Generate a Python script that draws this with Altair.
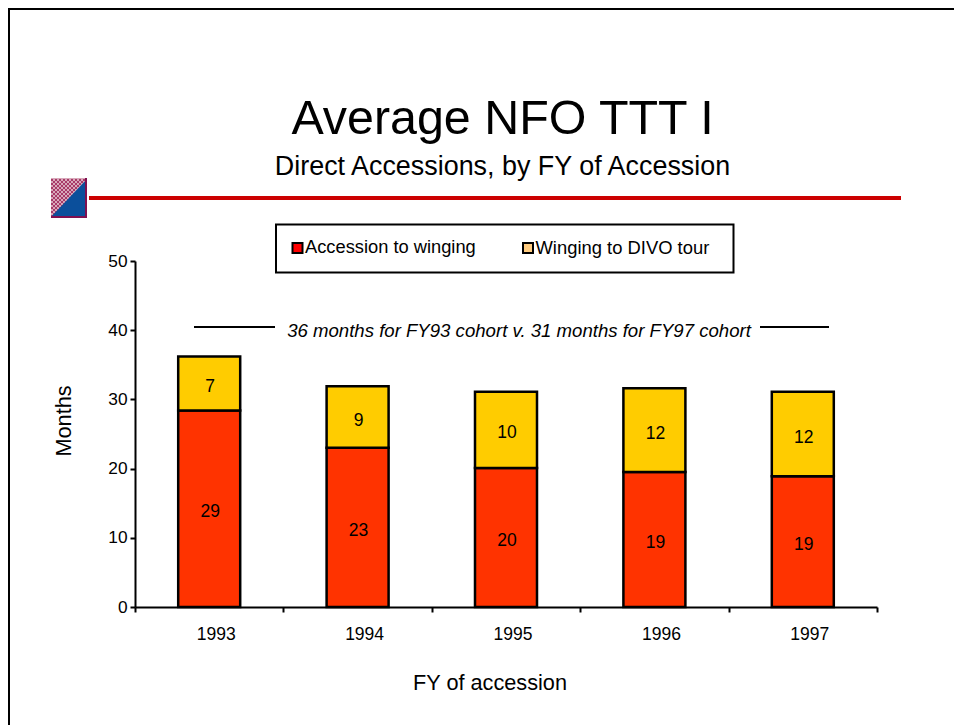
import altair as alt
import pandas as pd

years = ["1993", "1994", "1995", "1996", "1997"]
accession = [28.4, 23.0, 20.1, 19.5, 18.9]
winging = [7.8, 8.9, 11.0, 12.1, 12.2]
accession_labels = ["29", "23", "20", "19", "19"]
winging_labels = ["7", "9", "10", "12", "12"]
series = ["Accession to winging", "Winging to DIVO tour"]
bar_colors = ["#FF3300", "#FFCC00"]
legend_colors = ["#FF0000", "#FFCC80"]

FONT = "Liberation Sans"
W, H = 742, 346
OX, OY = 135, 261  # plot origin in page pixels


def px(v):
    return alt.value(v - OX)


def py(v):
    return alt.value(v - OY)


rows = []
for i, yr in enumerate(years):
    a, b = accession[i], winging[i]
    rows.append(dict(year=yr, series=series[0], start=0, end=a, mid=a / 2, label=accession_labels[i]))
    rows.append(dict(year=yr, series=series[1], start=a, end=a + b, mid=a + b / 2, label=winging_labels[i]))
df = pd.DataFrame(rows)

x = alt.X(
    "year:N",
    title=None,
    scale=alt.Scale(paddingInner=0, paddingOuter=0),
    axis=alt.Axis(
        labelAngle=0, labelFontSize=17.5, labelFont=FONT, labelColor="#000", labelPadding=13,
        labelOffset=6.5, tickBand="extent", tickSize=5, tickWidth=2, tickColor="#000",
        domainColor="#000", domainWidth=2, grid=False,
    ),
)
y = alt.Y(
    "start:Q",
    title=None,
    scale=alt.Scale(domain=[0, 50], nice=False),
    axis=alt.Axis(
        values=[0, 10, 20, 30, 40, 50], labelFontSize=17.3, labelFont=FONT, labelColor="#000",
        labelPadding=3, tickSize=5, tickWidth=2, tickColor="#000", domainColor="#000",
        domainWidth=2, grid=False,
    ),
)

bars = alt.Chart(df).mark_bar(size=62, stroke="#000", strokeWidth=2.5).encode(
    x=x,
    y=y,
    y2="end:Q",
    color=alt.Color("series:N", scale=alt.Scale(domain=series, range=bar_colors), legend=None),
)
values = alt.Chart(df).mark_text(font=FONT, fontSize=17.5, color="#000", dy=3.5, dx=1).encode(
    x=alt.X("year:N"),
    y=alt.Y("mid:Q"),
    text="label:N",
)


def txt(s, cx, cy, size, **kw):
    return alt.Chart(pd.DataFrame({"t": [s]})).mark_text(
        font=FONT, fontSize=size, color="#000", baseline="middle", **kw
    ).encode(x=px(cx), y=py(cy), text="t:N")


def hline(x1, x2, yy, color="#000", width=2):
    return alt.Chart(pd.DataFrame({"a": [0]})).mark_rule(color=color, strokeWidth=width).encode(
        x=px(x1), x2=px(x2), y=py(yy)
    )


def vline(xx, y1, y2, color="#000", width=2):
    return alt.Chart(pd.DataFrame({"a": [0]})).mark_rule(color=color, strokeWidth=width).encode(
        x=px(xx), y=py(y1), y2=py(y2)
    )


def box(x1, x2, y1, y2, fill, stroke=None, sw=0):
    kw = dict(fill=fill)
    if stroke:
        kw.update(stroke=stroke, strokeWidth=sw)
    return alt.Chart(pd.DataFrame({"a": [0]})).mark_rect(**kw).encode(
        x=px(x1), x2=px(x2), y=py(y1), y2=py(y2)
    )


# hatched-and-blue square ornament
def shape(path, cx, cy, size, fill):
    return alt.Chart(pd.DataFrame({"a": [0]})).mark_point(
        shape=path, size=size, fill=fill, filled=True, opacity=1, strokeWidth=0
    ).encode(x=px(cx), y=py(cy))


checks = []
for r in range(0, 19):
    for c in range(0, 18):
        if (r + c) % 2 == 0 and c / 18 + r / 19 < 0.98:
            x0, y0 = -0.9 + c * 0.1, -0.95 + r * 0.1
            checks.append(f"M{x0:.2f},{y0:.2f}h0.1v0.1h-0.1Z")
ornament = [
    box(51, 87, 178, 218, "#D8A8BA"),
    shape("".join(checks), 69, 198, 1600, "#A83A68"),
    shape("M0.9,-0.95L0.9,0.95L-0.9,0.95Z", 69, 198, 1600, "#0B4F9B"),
    hline(51, 87, 217, "#7F1050", 2),
    vline(86, 178, 218, "#7F1050", 2),
]

decor = [
    hline(8, 954, 9),
    vline(9, 8, 725),
    txt("Average NFO TTT I", 502.5, 118.5, 48.4),
    txt("Direct Accessions, by FY of Accession", 502.5, 167, 26.9),
    hline(89, 901, 198, "#CC0000", 4),
    box(276, 733.5, 224.5, 272.5, "#FFFFFF", "#000", 2),
    box(292.5, 302.5, 243, 253, legend_colors[0], "#000", 2),
    box(523, 533, 243, 253, legend_colors[1], "#000", 2),
    txt(series[0], 305, 248, 18.3, align="left"),
    txt(series[1], 535.5, 248, 18.4, align="left"),
    hline(194, 275, 327),
    hline(760, 829, 327),
    txt("36 months for FY93 cohort v. 31 months for FY97 cohort", 519, 331, 18.6, fontStyle="italic"),
    txt("FY of accession", 490, 682.5, 21.7),
    txt("Months", 64, 421, 21.7, angle=270),
]

chart = alt.layer(bars, values, *ornament, *decor).properties(
    width=W,
    height=H,
    autosize=alt.AutoSizeParams(type="none"),
    padding={"left": OX - 8, "top": OY - 8, "right": 946 - (OX - 8) - W, "bottom": 717 - (OY - 8) - H},
    background="#FFFFFF",
).configure_view(stroke=None)

chart.save("out.html", embed_options={"renderer": "svg", "actions": False})
